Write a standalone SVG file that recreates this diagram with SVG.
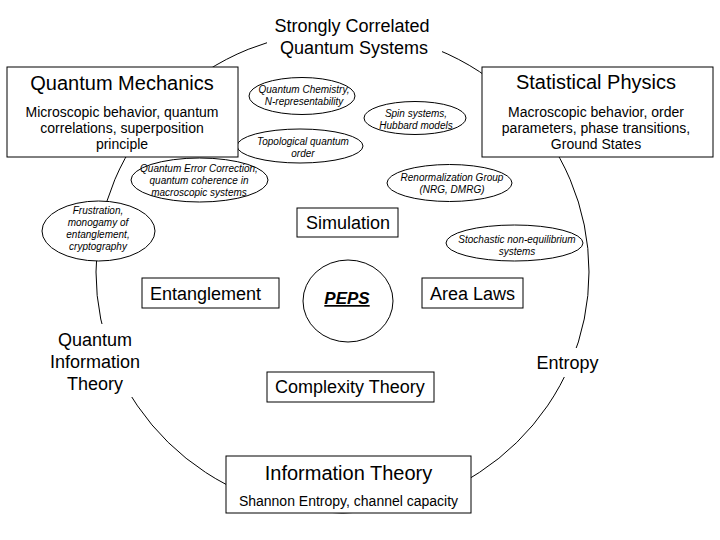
<svg xmlns="http://www.w3.org/2000/svg" width="720" height="540" viewBox="0 0 720 540">
<style>
text{font-family:"Liberation Sans",Arial,sans-serif;fill:#000}
.box,.ell{fill:#fff;stroke:#000;stroke-width:1}
.t20{font-size:20px}
.t18{font-size:18px}
.t16{font-size:16px}
.t14{font-size:14px}
.it{font-size:10px;font-style:italic}
.c{text-anchor:middle}
.mask{fill:#fff;stroke:none}
</style>
<rect width="720" height="540" fill="#fff"/>
<g id="connectors">
<ellipse cx="342.5" cy="272" rx="246.5" ry="241" fill="none" stroke="#000" stroke-width="1"/>
</g>
<g id="strongly-correlated">
<rect class="mask" x="267" y="8" width="175" height="54"/>
<text class="t18 c" x="352" y="32">Strongly Correlated</text>
<text class="t18 c" x="354" y="54">Quantum Systems</text>
</g>
<g id="quantum-information-theory">
<rect class="mask" x="40" y="324" width="112" height="73"/>
<text class="t18 c" x="95" y="346">Quantum</text>
<text class="t18 c" x="95" y="368">Information</text>
<text class="t18 c" x="95" y="390">Theory</text>
</g>
<g id="entropy">
<rect class="mask" x="530" y="348" width="76" height="29"/>
<text class="t18 c" x="567.5" y="369">Entropy</text>
</g>
<g id="topological">
<ellipse class="ell" cx="300" cy="146" rx="63" ry="17"/>
<text class="it c" x="303" y="145">Topological quantum</text>
<text class="it c" x="303" y="157">order</text>
</g>
<g id="quantum-mechanics">
<rect class="box" x="7" y="67" width="231" height="90"/>
<text class="t20 c" x="122" y="90">Quantum Mechanics</text>
<text class="t14 c" x="122" y="117">Microscopic behavior, quantum</text>
<text class="t14 c" x="122" y="133">correlations, superposition</text>
<text class="t14 c" x="122" y="149">principle</text>
</g>
<g id="statistical-physics">
<rect class="box" x="482" y="67" width="231" height="90"/>
<text class="t20 c" x="596" y="89">Statistical Physics</text>
<text class="t14 c" x="596" y="117">Macroscopic behavior, order</text>
<text class="t14 c" x="596" y="133">parameters, phase transitions,</text>
<text class="t14 c" x="596" y="149">Ground States</text>
</g>
<g id="quantum-chemistry">
<ellipse class="ell" cx="302" cy="96" rx="53" ry="18.5"/>
<text class="it c" x="304" y="93">Quantum Chemistry,</text>
<text class="it c" x="304" y="105">N-representability</text>
</g>
<g id="spin-systems">
<ellipse class="ell" cx="415" cy="118" rx="51" ry="16.5"/>
<text class="it c" x="416" y="117">Spin systems,</text>
<text class="it c" x="416" y="129">Hubbard models</text>
</g>
<g id="qec">
<ellipse class="ell" cx="199.5" cy="180" rx="68.5" ry="22"/>
<text class="it c" x="199" y="172">Quantum Error Correction,</text>
<text class="it c" x="199" y="184">quantum coherence in</text>
<text class="it c" x="199" y="196">macroscopic systems</text>
</g>
<g id="renormalization">
<ellipse class="ell" cx="449.5" cy="183" rx="62.5" ry="18.5"/>
<text class="it c" x="452" y="181">Renormalization Group</text>
<text class="it c" x="452" y="193">(NRG, DMRG)</text>
</g>
<g id="frustration">
<ellipse class="ell" cx="98.5" cy="231" rx="56.5" ry="30"/>
<text class="it c" x="98" y="214">Frustration,</text>
<text class="it c" x="98" y="226">monogamy of</text>
<text class="it c" x="98" y="238">entanglement,</text>
<text class="it c" x="98" y="250">cryptography</text>
</g>
<g id="stochastic">
<ellipse class="ell" cx="514.5" cy="243" rx="68.5" ry="18"/>
<text class="it c" x="517" y="243">Stochastic non-equilibrium</text>
<text class="it c" x="517" y="255">systems</text>
</g>
<g id="simulation">
<rect class="box" x="297" y="208" width="101" height="29"/>
<text class="t18" x="306" y="229">Simulation</text>
</g>
<g id="entanglement">
<rect class="box" x="142" y="278" width="137" height="30"/>
<text class="t18" x="150" y="300">Entanglement</text>
</g>
<g id="peps">
<ellipse class="ell" cx="348" cy="301" rx="45" ry="41"/>
<text class="c" x="347" y="304" font-size="17" font-weight="bold" font-style="italic" text-decoration="underline">PEPS</text>
</g>
<g id="area-laws">
<rect class="box" x="422" y="278" width="101" height="30"/>
<text class="t18" x="430" y="300">Area Laws</text>
</g>
<g id="complexity-theory">
<rect class="box" x="267" y="372" width="167" height="30"/>
<text class="t18" x="275" y="393">Complexity Theory</text>
</g>
<g id="information-theory">
<rect class="box" x="226" y="456" width="245" height="57"/>
<text class="t20 c" x="348.5" y="480">Information Theory</text>
<text class="t14 c" x="348.5" y="506">Shannon Entropy, channel capacity</text>
</g>
</svg>
